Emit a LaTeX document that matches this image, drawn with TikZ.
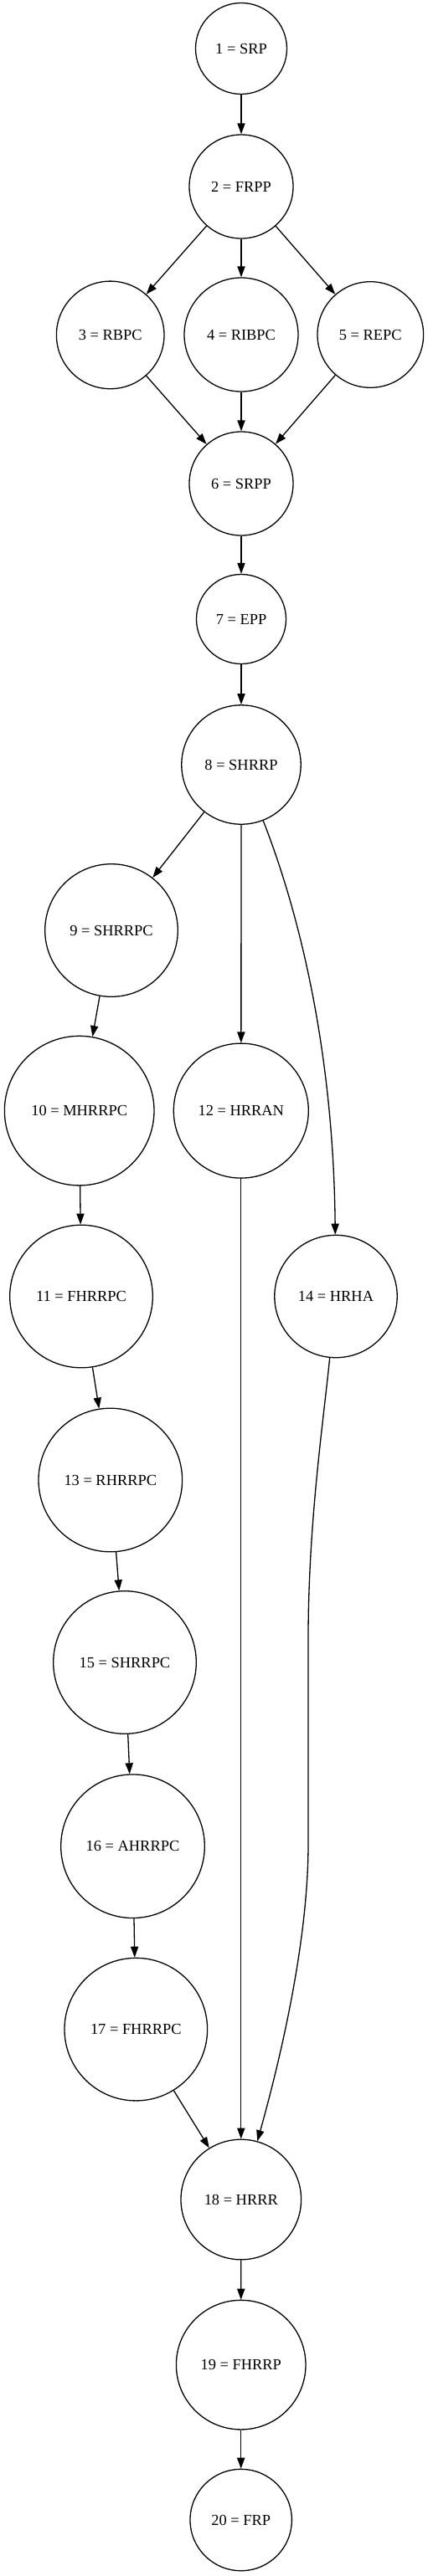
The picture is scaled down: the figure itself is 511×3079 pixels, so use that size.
\documentclass[tikz,border=0pt]{standalone}
\usepackage{fontspec}
\setmainfont{Liberation Serif}
\usetikzlibrary{arrows.meta}

\begin{document}
\begin{tikzpicture}[x=1pt,y=-1pt,
	state/.style={
		circle,draw,line width=1.3pt,inner sep=0pt,
		minimum size=#1,
		font=\fontsize{18.4}{22}\selectfont
	},
	flow/.style={
		line width=1.3pt,
		-{Triangle[length=13pt,width=9.2pt]}
	}
]
	\useasboundingbox (0,0) rectangle (511,3079);
	\foreach \i/\x/\y/\d/\t in {1/288/58/109/SRP,2/288/223/124/FRPP,
		3/131.7/400.4/128.6/RBPC,4/288/400/136/RIBPC,5/442.3/400/126.6/REPC,
		6/288/578/124/SRPP,7/288/740/107/EPP,8/288/914/142.4/SHRRP,
		9/133/1112/158.6/SHRRPC,10/94.7/1327.6/178.6/MHRRPC,
		11/97/1549.5/170.6/FHRRPC,12/287.8/1327.6/161/HRRAN,
		13/131.8/1769/171.6/RHRRPC,14/401/1549.5/146.4/HRHA,
		15/149/1987/170.6/SHRRPC,16/158.5/2206.7/171.6/AHRRPC,
		17/162.3/2425.6/170.6/FHRRPC,18/287.8/2629/143.6/HRRR,
		19/287.7/2826.6/154.6/FHRRP,20/287.7/3012/121.4/FRP} {
		\node[state=\d pt] (n\i) at (\x,\y) {\i{} = \t};
	}
	\foreach \a/\b in {1/2,2/3,2/4,2/5,3/6,4/6,5/6,6/7,7/8,8/9,8/12,9/10,
		10/11,11/13,13/15,15/16,16/17,17/18,12/18,18/19,19/20} {
		\draw[flow] (n\a) -- (n\b);
	}
	% the two bent ones on the right
	\draw[flow] (n8) .. controls (355,1085) and (398,1250) .. (n14);
	\draw[flow] (n14) .. controls (386,1700) and (368,1820) .. (368,1959)
		-- (368,2204) .. controls (368,2320) and (335,2460) .. (n18);
\end{tikzpicture}
\end{document}
